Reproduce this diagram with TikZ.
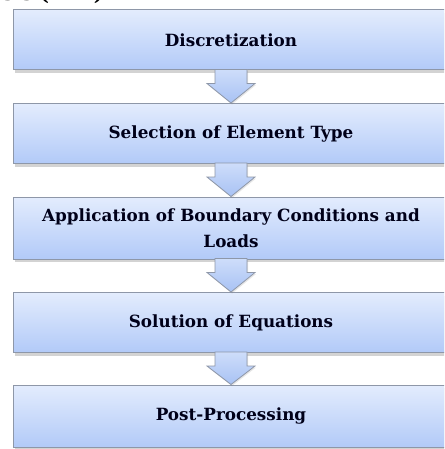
\documentclass[tikz,border=0pt]{standalone}
\usepackage{fontspec}
\setmainfont{DejaVu Serif}
\usepackage{xcolor}
\usepackage{tikz}
\usetikzlibrary{positioning,calc,shadows}

\definecolor{boxtop}{HTML}{E3ECFD}
\definecolor{boxbottom}{HTML}{B2CAF8}
\definecolor{boxline}{HTML}{8E97A8}
\definecolor{arrowtop}{HTML}{CEDDFA}
\definecolor{arrowbottom}{HTML}{A8C2F4}

% block arrow from the bottom of one stage to the top of the next
\newcommand{\flowarrow}[2]{%
  \draw[flow arrow]
    ($(#1.south)+(-16,-1)$) -- ($(#1.south)+(16,-1)$) -- ($(#1.south)+(16,13)$)
    -- ($(#1.south)+(24,13)$) -- (#2.north) -- ($(#1.south)+(-24,13)$)
    -- ($(#1.south)+(-16,13)$) -- cycle;}

\begin{document}
\begin{tikzpicture}[x=1pt,y=-1pt,
    stage node/.style={rectangle,draw=boxline,line width=1pt,top color=boxtop,bottom color=boxbottom,
      minimum width=436pt,minimum height=60pt,inner sep=2pt,align=center,
      font=\bfseries\fontsize{16.8}{26}\selectfont,text=black!90!blue,
      drop shadow={shadow xshift=1.5pt,shadow yshift=-3pt,opacity=.35}},
    flow arrow/.style={draw=boxline,line width=.8pt,top color=arrowtop,bottom color=arrowbottom,
      drop shadow={shadow xshift=1pt,shadow yshift=-1.5pt,opacity=.2}}]
        \useasboundingbox (0,0) rectangle (444,449);
        \clip (0,0) rectangle (444,449);
        \node[anchor=base east,font=\bfseries\fontsize{20}{24}\selectfont] (title) at (107,1) {Finite Element Analysis (FEA)};
        \node[stage node] (1) at (231,40) {Discretization};
        \node[stage node] (2) at (231,133.5) {Selection of Element Type};
        \node[stage node,minimum height=62pt] (3) at (231,228) {Application of Boundary Conditions and\\Loads};
        \node[stage node] (4) at (231,322.5) {Solution of Equations};
        \node[stage node,minimum height=62pt] (5) at (231,416) {Post-Processing};
        \flowarrow{1}{2}
        \flowarrow{2}{3}
        \flowarrow{3}{4}
        \flowarrow{4}{5}
      \end{tikzpicture}
\end{document}
